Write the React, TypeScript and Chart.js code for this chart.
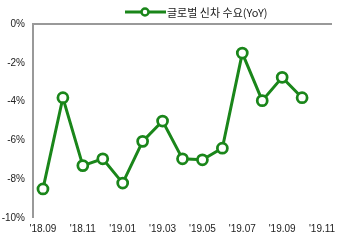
import React, { useEffect, useRef } from "react";
import { Chart, registerables } from "chart.js";

Chart.register(...registerables);

const months = [
  "'18.09", "'18.10", "'18.11", "'18.12", "'19.01", "'19.02", "'19.03", "'19.04",
  "'19.05", "'19.06", "'19.07", "'19.08", "'19.09", "'19.10", "'19.11",
];
const demandYoY = [-8.5, -3.8, -7.3, -6.95, -8.2, -6.05, -5.0, -6.95, -7.0, -6.4, -1.5, -3.95, -2.75, -3.8, null];
const seriesLabel = "글로벌 신차 수요(YoY)";
const GREEN = "#1a861a";

const legendPlugin = {
  id: "customLegend",
  afterDraw(chart: any) {
    const ctx = chart.ctx;
    ctx.save();
    const y = 12;
    const x0 = 125;
    ctx.strokeStyle = GREEN;
    ctx.lineWidth = 3;
    ctx.beginPath();
    ctx.moveTo(x0, y);
    ctx.lineTo(x0 + 41, y);
    ctx.stroke();
    ctx.beginPath();
    ctx.arc(x0 + 20, y, 3.5, 0, Math.PI * 2);
    ctx.fillStyle = "#fff";
    ctx.fill();
    ctx.lineWidth = 2.5;
    ctx.stroke();
    ctx.fillStyle = "#222";
    ctx.font = "11px 'Noto Sans CJK KR', 'Liberation Sans', sans-serif";
    ctx.textBaseline = "middle";
    ctx.textAlign = "left";
    ctx.fillText(seriesLabel, x0 + 42, y + 1);
    ctx.restore();
  },
};

export default function App() {
  const ref = useRef<HTMLCanvasElement>(null);
  useEffect(() => {
    if (!ref.current) return;
    const chart = new Chart(ref.current, {
      type: "line",
      data: {
        labels: months,
        datasets: [
          {
            label: seriesLabel,
            data: demandYoY,
            borderColor: GREEN,
            borderWidth: 3,
            pointRadius: 5,
            pointBorderWidth: 2.75,
            pointBackgroundColor: "#fff",
            pointBorderColor: GREEN,
            tension: 0,
          },
        ],
      },
      plugins: [legendPlugin],
      options: {
        animation: false,
        responsive: false,
        maintainAspectRatio: false,
        layout: { padding: { top: 24, right: 14, left: 0, bottom: 0 } },
        plugins: { legend: { display: false }, tooltip: { enabled: false } },
        scales: {
          x: {
            type: "category",
            offset: true,
            grid: { display: false, drawTicks: false },
            border: { display: false },
            afterFit: (s: any) => { s.height = 22; },
            ticks: {
              autoSkip: false,
              maxRotation: 0,
              padding: 5,
              color: "#222",
              font: { family: "'Liberation Sans', Arial, sans-serif", size: 10 },
              callback: (_v: any, i: number) => (i % 2 === 0 ? months[i] : ""),
            },
          },
          y: {
            min: -10,
            max: 0,
            grid: {
              drawTicks: false,
              color: (c: any) => (c.tick && c.tick.value === 0 ? "#999" : "rgba(0,0,0,0)"),
              lineWidth: (c: any) => (c.tick && c.tick.value === 0 ? 2 : 0),
            },
            border: { display: true, color: "#999", width: 2 },
            afterFit: (s: any) => { s.width = 33; },
            ticks: {
              stepSize: 2,
              padding: 8,
              color: "#222",
              font: { family: "'Liberation Sans', Arial, sans-serif", size: 10 },
              callback: (v: any) => v + "%",
            },
          },
        },
      },
    });
    return () => chart.destroy();
  }, []);
  return (
    <div style={{ position: "fixed", left: 0, top: 0, width: 346, height: 240, background: "#fff" }}>
      <canvas ref={ref} width={346} height={240} style={{ width: 346, height: 240 }} />
    </div>
  );
}
